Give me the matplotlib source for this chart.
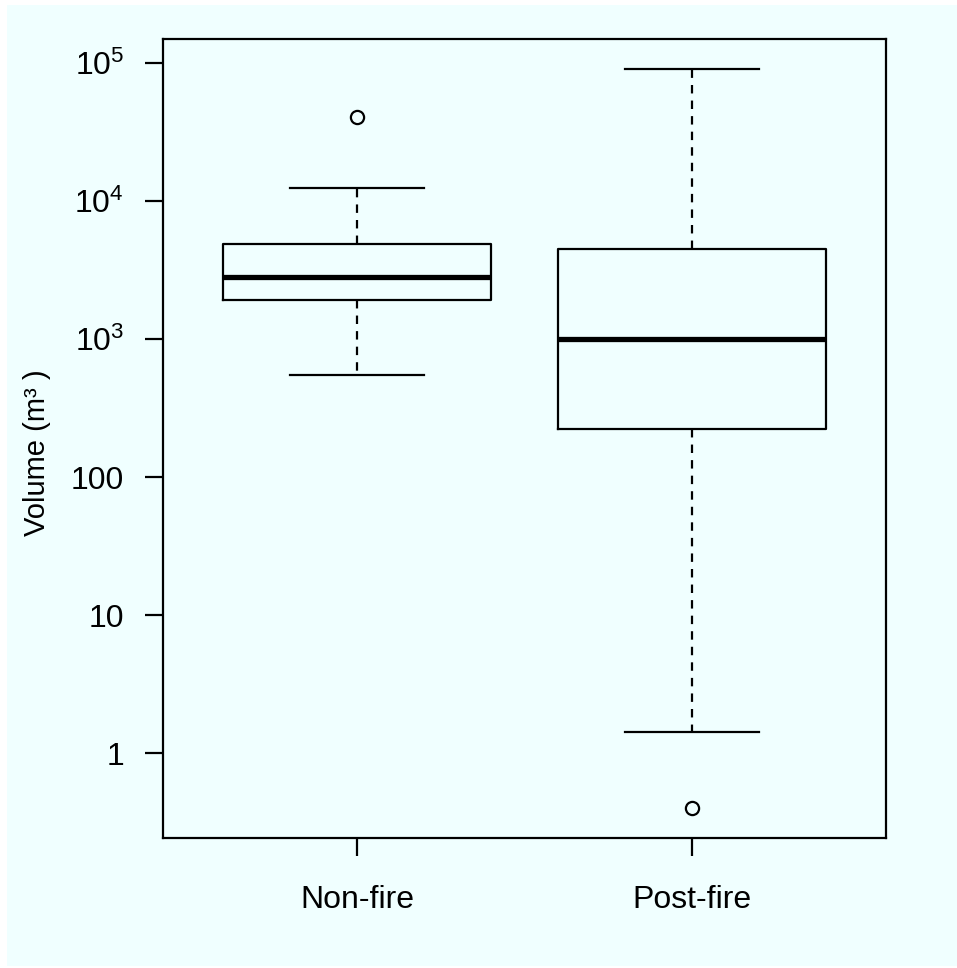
import numpy as np
import matplotlib
matplotlib.use("Agg")
import matplotlib.pyplot as plt
from matplotlib.patches import Rectangle

plt.rcParams["font.family"] = ["Liberation Sans", "DejaVu Sans"]
plt.rcParams["mathtext.fontset"] = "custom"
plt.rcParams["mathtext.rm"] = "Liberation Sans"
plt.rcParams["mathtext.it"] = "Liberation Sans"

# Box summaries (m^3) per group
grupos = ["Non-fire", "Post-fire"]
whisker_baixo = [547, 1.42]
q1 = [1910, 222]
mediana = [2810, 1010]
q3 = [4870, 4480]
whisker_alto = [12400, 91000]
outliers = [[40600], [0.40]]

ticks_y = [1, 10, 100, 1e3, 1e4, 1e5]
rotulos_y = ["1", "10", "100", r"$10^3$", r"$10^4$", r"$10^5$"]

fundo = "#F0FFFF"

fig = plt.figure(figsize=(9.57, 9.68), dpi=100)
fig.patch.set_facecolor("white")
fig.patches.append(Rectangle((7 / 957, 2 / 968), 1, 961 / 968,
                             transform=fig.transFigure, facecolor=fundo,
                             edgecolor="none", zorder=-1))

ax = fig.add_axes([163 / 957, 130 / 968, 723 / 957, 799 / 968])
ax.set_facecolor(fundo)

stats = []
for i, nome in enumerate(grupos):
    stats.append(dict(label=nome, whislo=whisker_baixo[i], q1=q1[i],
                      med=mediana[i], q3=q3[i], whishi=whisker_alto[i],
                      fliers=outliers[i]))

ax.bxp(stats, positions=[1, 2], widths=0.8, showfliers=True,
       boxprops=dict(color="black", linewidth=1.6),
       medianprops=dict(color="black", linewidth=3.8, solid_capstyle="butt"),
       whiskerprops=dict(color="black", linewidth=1.6, linestyle=(0, (3.8, 3.2))),
       capprops=dict(color="black", linewidth=1.6),
       capwidths=0.4,
       flierprops=dict(marker="o", markersize=9.5, markerfacecolor="none",
                       markeredgecolor="black", markeredgewidth=1.6))

ax.set_yscale("log")
todos = whisker_baixo + whisker_alto + [v for o in outliers for v in o]
lo, hi = np.log10(min(todos)), np.log10(max(todos))
pad = 0.04 * (hi - lo)
ax.set_ylim(10 ** (lo - pad), 10 ** (hi + pad))
ax.set_xlim(0.5 - 0.08, 2.5 + 0.08)

ax.set_yticks(ticks_y)
ax.set_yticklabels(rotulos_y)
ax.yaxis.set_minor_locator(matplotlib.ticker.NullLocator())
ax.set_xticks([1, 2])
ax.set_xticklabels(grupos)

ax.tick_params(axis="both", length=13, width=1.6, labelsize=23)
ax.tick_params(axis="y", pad=15)
ax.tick_params(axis="x", pad=21)
for s in ax.spines.values():
    s.set_linewidth(1.6)

ax.set_ylabel("Volume (m\u00b3 )", fontsize=21)
ax.yaxis.set_label_coords(-0.155, 0.482)

fig.savefig("out.png", dpi=100, facecolor=fig.get_facecolor())
